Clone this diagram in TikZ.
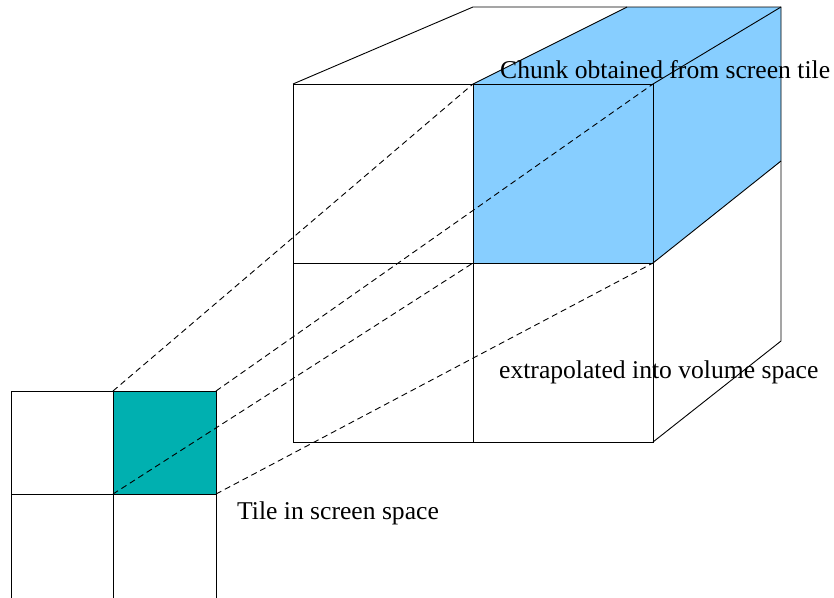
\documentclass[tikz,border=0pt]{standalone}
\usepackage{fontspec}
\setmainfont{Liberation Serif}
\usetikzlibrary{positioning}

\definecolor{chunkblue}{RGB}{135,206,255}
\definecolor{tileteal}{RGB}{0,176,176}

\begin{document}
\begin{tikzpicture}[
  x=1pt, y=-1pt,
  edge/.style={draw=black, line width=0.9pt},
  proj/.style={draw=black, line width=0.9pt, dash pattern=on 6pt off 4pt},
  caption/.style={font=\fontsize{25.6}{30}\selectfont, inner sep=0pt, anchor=base west}
  ]
\useasboundingbox (0,0) rectangle (834,597);

% screen tile, 2x2 grid
\coordinate (sTL) at (11,391);
\coordinate (sTM) at (113,391);
\coordinate (sTR) at (216,391);
\coordinate (sML) at (11,494);
\coordinate (sC)  at (113,494);
\coordinate (sMR) at (216,494);
\coordinate (sBL) at (11,599);
\coordinate (sBM) at (113,599);
\coordinate (sBR) at (216,599);

% volume, front face
\coordinate (fTL) at (293,84);
\coordinate (fTM) at (473,84);
\coordinate (fTR) at (653,84);
\coordinate (fML) at (293,263);
\coordinate (fC)  at (473,263);
\coordinate (fMR) at (653,263);
\coordinate (fBL) at (293,442);
\coordinate (fBM) at (473,442);
\coordinate (fBR) at (653,442);
% volume, back edges
\coordinate (bTL) at (473,7);
\coordinate (bTM) at (627,7);
\coordinate (bTR) at (781,7);
\coordinate (bMR) at (781,161);
\coordinate (bBR) at (781,341);

% fills
\fill[tileteal] (sTM) -- (sTR) -- (sMR) -- (sC) -- cycle;
\fill[chunkblue] (fTM) -- (bTM) -- (bTR) -- (bMR) -- (fMR) -- (fC) -- cycle;

% labels
\node[caption] (chunk) at (500,78) {Chunk obtained from screen tile};
\node[caption] (extra) at (499,378) {extrapolated into volume space};
\node[caption] (tile)  at (237,519) {Tile in screen space};

% tile grid lines
\draw[edge] (sTL) rectangle (sBR);
\draw[edge] (sTM) -- (sBM);
\draw[edge] (sML) -- (sMR);

% volume lines
\draw[edge] (fTL) rectangle (fBR);
\draw[edge] (fTM) -- (fBM);
\draw[edge] (fML) -- (fMR);
\draw[edge] (fTL) -- (bTL) -- (bTR) -- (bBR) -- (fBR);
\draw[edge] (fTM) -- (bTM);
\draw[edge] (fTR) -- (bTR);
\draw[edge] (fMR) -- (bMR);

% projection of the tile into the volume
\draw[proj] (sTM) -- (fTM);
\draw[proj] (sTR) -- (fTR);
\draw[proj] (sC) -- (fC);
\draw[proj] (sMR) -- (fMR);

\end{tikzpicture}
\end{document}
